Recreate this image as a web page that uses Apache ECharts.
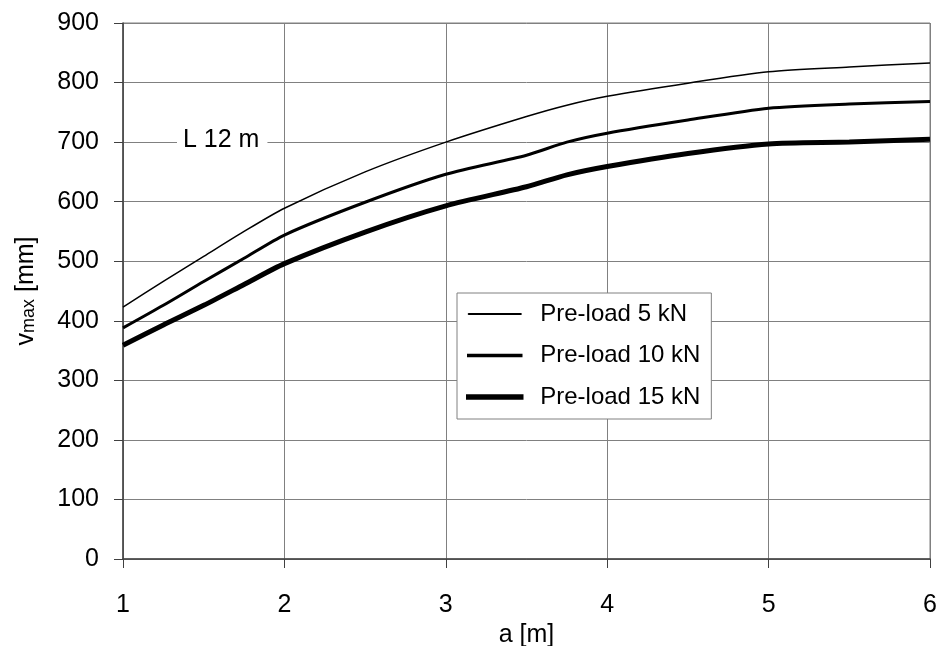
<!DOCTYPE html>
<html>
<head>
  <meta charset="UTF-8">
  <title>vmax vs a, L 12 m</title>
  <script src="https://cdn.jsdelivr.net/npm/echarts/dist/echarts.min.js"></script>
  <style>
    html, body { margin: 0; padding: 0; background: #fff; }
    #main { width: 939px; height: 646px; }
  </style>
</head>
<body>
  <div id="main"></div>
  <script>
    var aValues = [1, 1.25, 1.5, 1.75, 2, 2.5, 3, 3.5, 3.75, 4, 4.5, 5, 5.5, 6];
    var preload5 = [423, 466, 508, 550, 589, 650, 700, 743, 762, 777, 799, 818, 826, 833];
    var preload10 = [388, 426, 466, 505, 544, 599, 646, 678, 700, 715, 737, 757, 764, 768];
    var preload15 = [359, 393, 426, 461, 496, 549, 593, 625, 645, 659, 681, 697, 700, 705];
    var seriesNames = ['Pre-load 5 kN', 'Pre-load 10 kN', 'Pre-load 15 kN'];
    var lineWidths = [1.5, 3, 5];

    function pairs(ys) {
      return aValues.map(function (a, i) { return [a, ys[i]]; });
    }

    var font = 'Liberation Sans, Arial, sans-serif';
    var chart = echarts.init(document.getElementById('main'));

    var allData = [preload5, preload10, preload15];
    var series = allData.map(function (d, i) {
      return {
        name: seriesNames[i],
        type: 'line',
        data: pairs(d),
        symbol: 'none',
        smooth: 0.25,
        lineStyle: { color: '#000', width: lineWidths[i] },
        itemStyle: { color: '#000' },
        z: 3
      };
    });

    var option = {
      backgroundColor: '#fff',
      animation: false,
      grid: {
        left: 123, right: 9, top: 23, bottom: 87,
        outerBoundsMode: 'none',
        containLabel: false,
        show: true, borderColor: '#808080', borderWidth: 1
      },
      legend: {
        orient: 'vertical',
        left: 457,
        top: 293,
        backgroundColor: '#fff',
        borderColor: '#808080',
        borderWidth: 1,
        borderRadius: 0,
        padding: [9, 11, 10, 9],
        itemWidth: 53,
        itemHeight: 1,
        itemGap: 17.5,
        textStyle: { fontFamily: font, fontSize: 24, lineHeight: 24, color: '#000', padding: [0, 0, 0, 14] },
        data: seriesNames.map(function (n, i) {
          return {
            name: n,
            icon: 'rect',
            itemStyle: { color: '#000', borderColor: '#000', borderWidth: lineWidths[i] - 0.5 }
          };
        })
      },
      graphic: [{
        type: 'text',
        left: 177,
        top: 128,
        z: 10,
        style: {
          text: 'L 12 m',
          fontFamily: font,
          fontSize: 25,
          fill: '#000',
          backgroundColor: '#fff',
          padding: [0, 8, 0, 6]
        }
      }],
      xAxis: {
        type: 'value',
        min: 1, max: 6, interval: 1,
        name: 'a [m]',
        nameLocation: 'middle',
        nameGap: 49,
        nameTextStyle: { fontFamily: font, fontSize: 25, color: '#000' },
        axisLine: { lineStyle: { color: '#404040', width: 1.5 } },
        axisTick: { show: true, length: 9, lineStyle: { color: '#404040' } },
        axisLabel: { fontFamily: font, fontSize: 25, color: '#000', margin: 34 },
        splitLine: { show: true, lineStyle: { color: '#808080', width: 1 } }
      },
      yAxis: {
        type: 'value',
        min: 0, max: 900, interval: 100,
        name: '{v|v}{s|max}{v| [mm]}',
        nameLocation: 'middle',
        nameGap: 84,
        nameRotate: 90,
        nameTextStyle: {
          rich: {
            v: { fontFamily: font, fontSize: 25, color: '#000' },
            s: { fontFamily: font, fontSize: 18, color: '#000', padding: [6, 0, 0, 0] }
          }
        },
        axisLine: { show: true, lineStyle: { color: '#404040', width: 1.5 } },
        axisTick: { show: true, inside: false, length: 9, lineStyle: { color: '#404040' } },
        axisLabel: { fontFamily: font, fontSize: 25, color: '#000', margin: 24, padding: [0, 0, 5, 0] },
        splitLine: { show: true, lineStyle: { color: '#808080', width: 1 } }
      },
      series: series
    };

    chart.setOption(option);
  </script>
</body>
</html>
